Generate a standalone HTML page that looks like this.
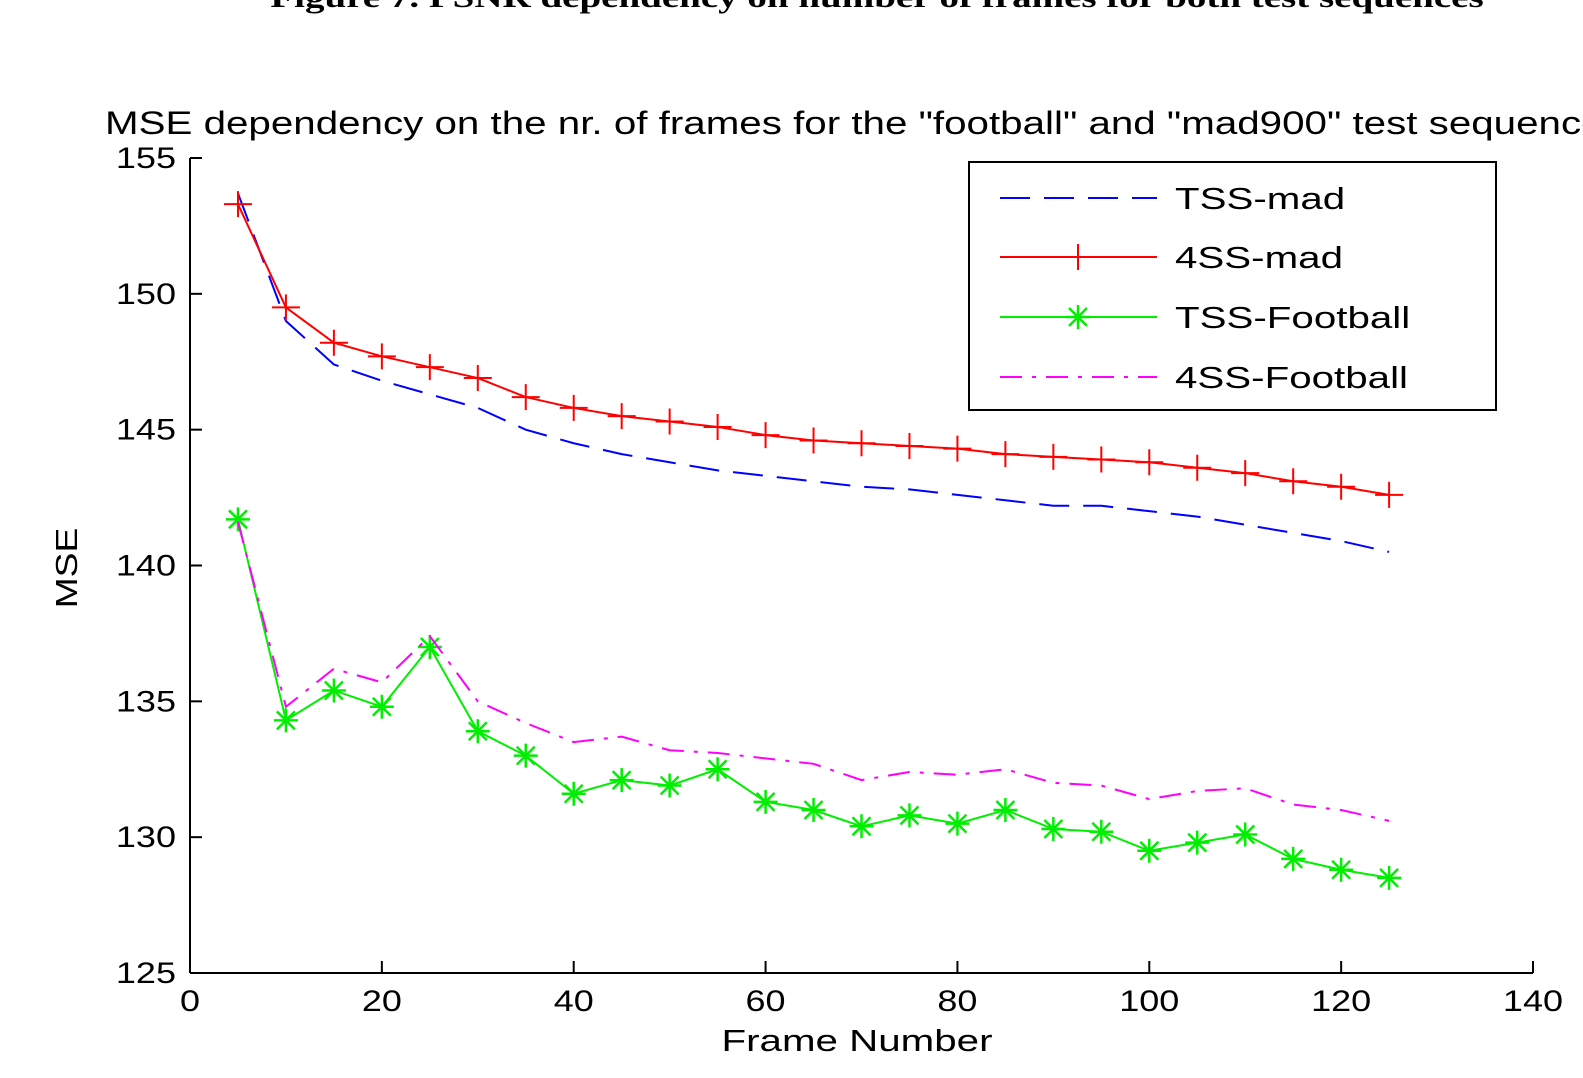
<!DOCTYPE html>
<html><head><meta charset="utf-8"><style>
html,body{margin:0;padding:0;background:#fff;width:1583px;height:1078px;overflow:hidden}
svg text{font-family:"Liberation Sans",Arial,sans-serif}
</style></head><body>
<svg id="chart" width="1583" height="1078" viewBox="0 0 1583 1078" xmlns="http://www.w3.org/2000/svg">
<text x="877" y="7" text-anchor="middle" font-size="30" font-weight="bold" style="font-family:'Liberation Serif',serif" data-stretch="1.3">Figure 7.  PSNR dependency on number of frames for both test sequences</text>
<text x="105" y="134" font-size="32" data-stretch="1.26">MSE dependency on the nr. of frames for the "football" and "mad900" test sequences</text>
<g id="axes"></g>
<g id="series"></g>
<text x="857" y="1051" text-anchor="middle" font-size="31" data-stretch="1.3">Frame Number</text>
<text transform="translate(77,568) rotate(-90)" text-anchor="middle" font-size="31" data-stretch="1.2">MSE</text>
<g>
<rect x="969" y="162" width="527" height="248" fill="#fff" stroke="#000" stroke-width="2"/>
<g id="legend-items"></g>
</g>
</svg>
<script>
const frames=[5,10,15,20,25,30,35,40,45,50,55,60,65,70,75,80,85,90,95,100,105,110,115,120,125];
const tssMad=[153.7,149.0,147.4,146.8,146.3,145.8,145.0,144.5,144.1,143.8,143.5,143.3,143.1,142.9,142.8,142.6,142.4,142.2,142.2,142.0,141.8,141.5,141.2,140.9,140.5];
const fourSSMad=[153.3,149.5,148.2,147.7,147.3,146.9,146.2,145.8,145.5,145.3,145.1,144.8,144.6,144.5,144.4,144.3,144.1,144.0,143.9,143.8,143.6,143.4,143.1,142.9,142.6];
const tssFootball=[141.7,134.3,135.4,134.8,137.0,133.9,133.0,131.6,132.1,131.9,132.5,131.3,131.0,130.4,130.8,130.5,131.0,130.3,130.2,129.5,129.8,130.1,129.2,128.8,128.5];
const fourSSFootball=[141.6,134.8,136.2,135.7,137.4,135.0,134.2,133.5,133.7,133.2,133.1,132.9,132.7,132.1,132.4,132.3,132.5,132.0,131.9,131.4,131.7,131.8,131.2,131.0,130.6];
const xTicks=[0,20,40,60,80,100,120,140];
const yTicks=[125,130,135,140,145,150,155];
const seriesNames=["TSS-mad","4SS-mad","TSS-Football","4SS-Football"];

const NS="http://www.w3.org/2000/svg";
const X0=190,X1=1533,Y0=973,Y1=158;
const xs=v=>X0+(v-0)/(140-0)*(X1-X0);
const ys=v=>Y0-(v-125)/(155-125)*(Y0-Y1);
function mk(tag,attrs,parent){const e=document.createElementNS(NS,tag);for(const k in attrs)e.setAttribute(k,attrs[k]);parent.appendChild(e);return e;}
const axes=document.getElementById('axes');
const xa=mk('line',{x1:X0,y1:Y0,x2:X1,y2:Y0,stroke:'#000','stroke-width':2},axes);


const ya=mk('line',{x1:X0,y1:Y0,x2:X0,y2:Y1,stroke:'#000','stroke-width':2},axes);


xTicks.forEach(t=>{
 const l=mk('line',{x1:xs(t),y1:Y0,x2:xs(t),y2:Y0-12,stroke:'#000','stroke-width':2},axes);
 
 
 const tx=mk('text',{x:xs(t),y:1011,'text-anchor':'middle','font-size':30,'data-stretch':'1.2'},axes);
 
 
 tx.textContent=t;
});
yTicks.forEach(t=>{
 const l=mk('line',{x1:X0,y1:ys(t),x2:X0+12,y2:ys(t),stroke:'#000','stroke-width':2},axes);
 
 
 const tx=mk('text',{x:176,y:ys(t)+10,'text-anchor':'end','font-size':30,'data-stretch':'1.2'},axes);
 
 
 tx.textContent=t;
});
const sg=document.getElementById('series');
function plus(g,x,y,c){mk('path',{d:`M${x-14},${y}H${x+14}M${x},${y-13}V${y+13}`,stroke:c,'stroke-width':2,fill:'none'},g);}
function star(g,x,y,c){mk('path',{d:`M${x-12},${y}H${x+12}M${x},${y-12}V${y+12}M${x-9},${y-9}L${x+9},${y+9}M${x-9},${y+9}L${x+9},${y-9}`,stroke:c,'stroke-width':2.5,fill:'none'},g);}
const defs=[
 {vals:tssMad,color:'#0000ff',dash:'30,14',marker:null,name:'tss-mad-line'},
 {vals:fourSSMad,color:'#ff0000',dash:null,marker:plus,name:'4ss-mad-line'},
 {vals:tssFootball,color:'#00ee00',dash:null,marker:star,name:'tss-football-line'},
 {vals:fourSSFootball,color:'#ff00ff',dash:'22,10,4,10',marker:null,name:'4ss-football-line'}
];
defs.forEach(d=>{
 const g=mk('g',{},sg);
 
 
 const pts=frames.map((f,i)=>xs(f)+','+ys(d.vals[i])).join(' ');
 const pl=mk('polyline',{points:pts,fill:'none',stroke:d.color,'stroke-width':2},g);
 if(d.dash)pl.setAttribute('stroke-dasharray',d.dash);
 if(d.marker)frames.forEach((f,i)=>d.marker(g,xs(f),ys(d.vals[i]),d.color));
});
const li=document.getElementById('legend-items');
const ly=[198,257,317,377];
defs.forEach((d,i)=>{
 const g=mk('g',{},li);
 
 
 const l=mk('line',{x1:1000,y1:ly[i],x2:1157,y2:ly[i],stroke:d.color,'stroke-width':2},g);
 if(d.dash)l.setAttribute('stroke-dasharray',d.dash);
 if(d.marker)d.marker(g,1078,ly[i],d.color);
 const t=mk('text',{x:1175,y:ly[i]+11,'font-size':31,'data-stretch':'1.3'},g);
 t.textContent=seriesNames[i];
});
document.querySelectorAll('text[data-stretch]').forEach(t=>{
 const f=parseFloat(t.getAttribute('data-stretch'));
 const w=t.getComputedTextLength();
 if(w>0){t.setAttribute('textLength',(w*f).toFixed(1));t.setAttribute('lengthAdjust','spacingAndGlyphs');}
});
</script>
</body></html>
